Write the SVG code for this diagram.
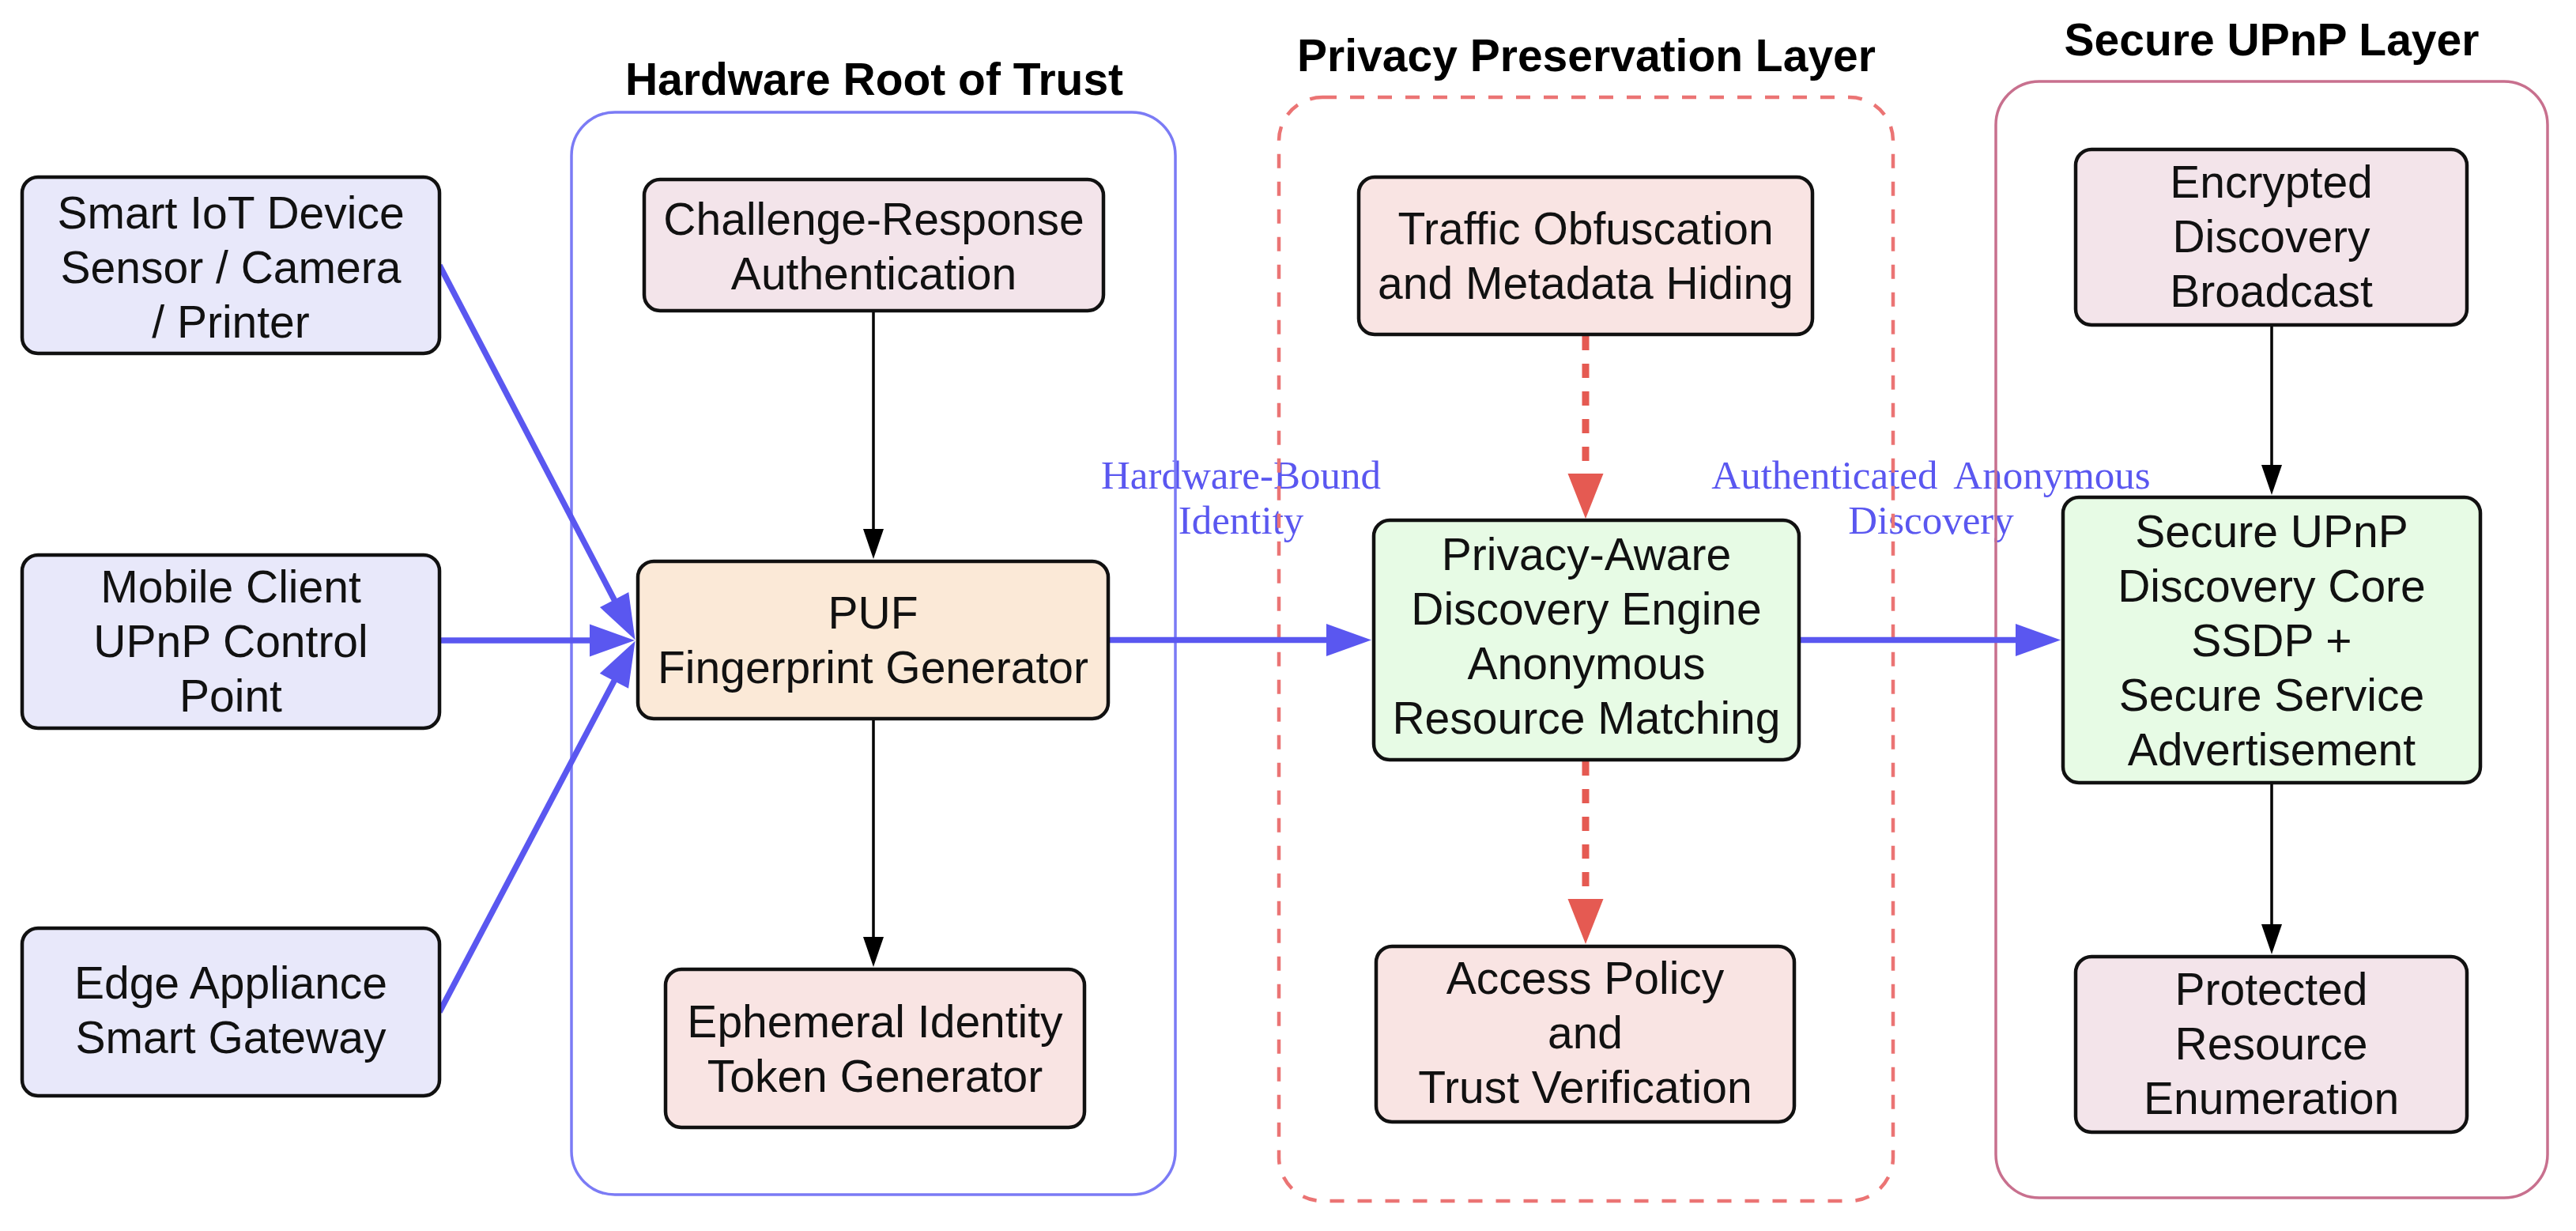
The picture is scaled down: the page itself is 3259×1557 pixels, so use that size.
<svg xmlns="http://www.w3.org/2000/svg" width="3259" height="1557" viewBox="0 0 3259 1557">
<style>
  .node rect { stroke: #111; stroke-width: 4.5; }
  .node text { font-family: "Liberation Sans", Arial, sans-serif; font-size: 57px; fill: #111; text-anchor: middle; }
  .title { font-family: "Liberation Sans", Arial, sans-serif; font-size: 57px; font-weight: bold; fill: #000; text-anchor: middle; }
  .lbl { font-family: "Liberation Serif", "Times New Roman", serif; font-size: 51px; fill: #5a57f0; text-anchor: middle; }
  .blue { stroke: #5a57f0; stroke-width: 7.5; fill: none; marker-end: url(#hb); }
  .black { stroke: #000; stroke-width: 3.5; fill: none; marker-end: url(#hk); }
  .red { stroke: #e55a52; stroke-width: 9; fill: none; stroke-dasharray: 18 17; marker-end: url(#hr); }
  .in { fill: #e8e8fa; }
  .pink { fill: #f3e4ea; }
  .peach { fill: #fbe9d7; }
  .rose { fill: #f9e4e3; }
  .green { fill: #e7fbe5; }
</style>
<defs>
  <marker id="hb" markerUnits="userSpaceOnUse" markerWidth="57" markerHeight="41" refX="1" refY="20.5" orient="auto" overflow="visible">
    <path d="M0,0 L57,20.5 L0,41 Z" fill="#5a57f0"/>
  </marker>
  <marker id="hk" markerUnits="userSpaceOnUse" markerWidth="38" markerHeight="26" refX="1" refY="13" orient="auto" overflow="visible">
    <path d="M0,0 L38,13 L0,26 Z" fill="#000"/>
  </marker>
  <marker id="hr" markerUnits="userSpaceOnUse" markerWidth="57" markerHeight="45" refX="1" refY="22.5" orient="auto" overflow="visible">
    <path d="M0,0 L57,22.5 L0,45 Z" fill="#e55a52"/>
  </marker>
</defs>
<rect width="3259" height="1557" fill="#fff"/>

<g id="edge-labels">
  <text class="lbl" x="1570" y="618">Hardware-Bound</text>
  <text class="lbl" x="1570" y="675">Identity</text>
  <text class="lbl" x="2443" y="618" word-spacing="10">Authenticated Anonymous</text>
  <text class="lbl" x="2443" y="675">Discovery</text>
</g>

<g id="layers">
  <g id="layer-hardware">
    <rect x="723" y="142" width="764" height="1369" rx="55" fill="none" stroke="#7b7bf5" stroke-width="3.5"/>
    <text class="title" x="1106" y="120">Hardware Root of Trust</text>
  </g>
  <g id="layer-privacy">
    <rect x="1618" y="123" width="777" height="1396" rx="55" fill="none" stroke="#eb7474" stroke-width="4.5" stroke-dasharray="18 17"/>
    <text class="title" x="2007" y="90">Privacy Preservation Layer</text>
  </g>
  <g id="layer-secure">
    <rect x="2525" y="103" width="698" height="1412" rx="55" fill="none" stroke="#c8708e" stroke-width="3.5"/>
    <text class="title" x="2874" y="70">Secure UPnP Layer</text>
  </g>
</g>

<g id="connectors">
  <line class="blue" x1="556" y1="335.5" x2="777.6" y2="759.5"/>
  <line class="blue" x1="556" y1="810" x2="747" y2="810"/>
  <line class="blue" x1="556" y1="1280" x2="777.4" y2="860.4"/>
  <line class="blue" x1="1402" y1="809.5" x2="1679" y2="809.5"/>
  <line class="blue" x1="2276" y1="809.5" x2="2551" y2="809.5"/>
  <line class="black" x1="1105" y1="393" x2="1105" y2="670"/>
  <line class="black" x1="1105" y1="909" x2="1105" y2="1186"/>
  <line class="black" x1="2874" y1="411" x2="2874" y2="589"/>
  <line class="black" x1="2874" y1="990" x2="2874" y2="1170"/>
  <line class="red" x1="2006" y1="425" x2="2006" y2="600"/>
  <line class="red" x1="2006" y1="963" x2="2006" y2="1138"/>
</g>

<g id="node-iot" class="node">
  <rect class="in" x="28" y="224" width="528" height="223" rx="20"/>
  <text x="292" y="289">Smart IoT Device</text>
  <text x="292" y="358">Sensor / Camera</text>
  <text x="292" y="427">/ Printer</text>
</g>
<g id="node-mobile" class="node">
  <rect class="in" x="28" y="702" width="528" height="219" rx="20"/>
  <text x="292" y="762">Mobile Client</text>
  <text x="292" y="831">UPnP Control</text>
  <text x="292" y="900">Point</text>
</g>
<g id="node-edge" class="node">
  <rect class="in" x="28" y="1174" width="528" height="212" rx="20"/>
  <text x="292" y="1263">Edge Appliance</text>
  <text x="292" y="1332">Smart Gateway</text>
</g>

<g id="node-challenge" class="node">
  <rect class="pink" x="815" y="227" width="581" height="166" rx="20"/>
  <text x="1105.5" y="297">Challenge-Response</text>
  <text x="1105.5" y="366">Authentication</text>
</g>
<g id="node-puf" class="node">
  <rect class="peach" x="807" y="710" width="595" height="199" rx="20"/>
  <text x="1104.5" y="795">PUF</text>
  <text x="1104.5" y="864">Fingerprint Generator</text>
</g>
<g id="node-ephemeral" class="node">
  <rect class="rose" x="842" y="1226" width="530" height="200" rx="20"/>
  <text x="1107" y="1312">Ephemeral Identity</text>
  <text x="1107" y="1381">Token Generator</text>
</g>

<g id="node-traffic" class="node">
  <rect class="rose" x="1719" y="224" width="574" height="199" rx="20"/>
  <text x="2006" y="309">Traffic Obfuscation</text>
  <text x="2006" y="378">and Metadata Hiding</text>
</g>
<g id="node-privacy-engine" class="node">
  <rect class="green" x="1738" y="658" width="538" height="303" rx="20"/>
  <text x="2007" y="721">Privacy-Aware</text>
  <text x="2007" y="790">Discovery Engine</text>
  <text x="2007" y="859">Anonymous</text>
  <text x="2007" y="928">Resource Matching</text>
</g>
<g id="node-access" class="node">
  <rect class="rose" x="1741" y="1197" width="529" height="222" rx="20"/>
  <text x="2005.5" y="1257">Access Policy</text>
  <text x="2005.5" y="1326">and</text>
  <text x="2005.5" y="1395">Trust Verification</text>
</g>

<g id="node-encrypted" class="node">
  <rect class="pink" x="2626" y="189" width="495" height="222" rx="20"/>
  <text x="2873.5" y="250">Encrypted</text>
  <text x="2873.5" y="319">Discovery</text>
  <text x="2873.5" y="388">Broadcast</text>
</g>
<g id="node-core" class="node">
  <rect class="green" x="2610" y="629" width="528" height="361" rx="20"/>
  <text x="2874" y="692">Secure UPnP</text>
  <text x="2874" y="761">Discovery Core</text>
  <text x="2874" y="830">SSDP +</text>
  <text x="2874" y="899">Secure Service</text>
  <text x="2874" y="968">Advertisement</text>
</g>
<g id="node-protected" class="node">
  <rect class="pink" x="2626" y="1210" width="495" height="222" rx="20"/>
  <text x="2873.5" y="1271">Protected</text>
  <text x="2873.5" y="1340">Resource</text>
  <text x="2873.5" y="1409">Enumeration</text>
</g>
</svg>
